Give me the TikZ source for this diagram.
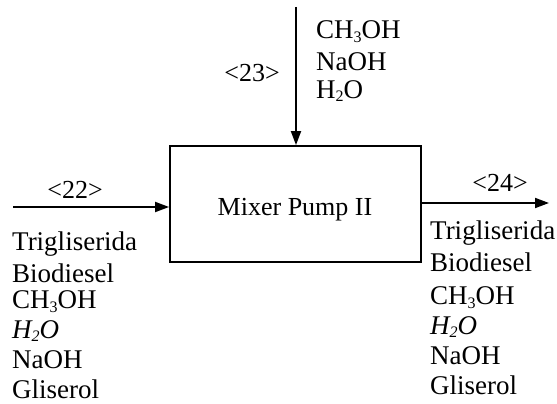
\documentclass[tikz,border=0pt]{standalone}
\usepackage{fontspec}
\setmainfont{Liberation Serif}
\usetikzlibrary{arrows.meta}
\newcommand\chemsub[1]{\raisebox{-0.14em}{\fontsize{16}{16}\selectfont #1}}
\tikzset{
  lbl/.style={inner sep=0pt, font=\fontsize{26}{30}\selectfont},
  item/.style={lbl, anchor=west, font=\fontsize{27}{30}\selectfont},
  flow/.style={line width=1.8pt, -{Triangle[length=14pt,width=10pt]}},
  boxst/.style={draw, line width=1.8pt, minimum width=251pt, minimum height=116pt, inner sep=0pt}
}
\begin{document}
\begin{tikzpicture}[x=1pt,y=-1pt]
\useasboundingbox (0,0) rectangle (557,404);
\node[boxst] (box) at (295.5,204) {};
\node[lbl] (mix) at (295,210) {Mixer Pump II};
% top stream
\coordinate (topin) at (296,7);
\draw[flow] (topin) -- (box.north -| topin);
\node[lbl] (l23) at (252,73) {<23>};
\node[item] (t1) at (316,32) {CH\chemsub{3}OH};
\node[item] (t2) at (316,62) {NaOH};
\node[item] (t3) at (316,91) {H\chemsub{2}O};
% left stream
\coordinate (leftin) at (13,207);
\draw[flow] (leftin) -- (leftin -| box.west);
\node[lbl] (l22) at (75,190) {<22>};
\node[item] (a1) at (12,244) {Trigliserida};
\node[item] (a2) at (12,273) {Biodiesel};
\node[item] (a3) at (12,302) {CH\chemsub{3}OH};
\node[item] (a4) at (12,331) {\itshape H\chemsub{2}O};
\node[item] (a5) at (12,360) {NaOH};
\node[item] (a6) at (12,389) {Gliserol};
% right stream
\coordinate (rightout) at (549,203);
\draw[flow] (box.east |- rightout) -- (rightout);
\node[lbl] (l24) at (500,183) {<24>};
\node[item] (b1) at (430,233) {Trigliserida};
\node[item] (b2) at (430,262) {Biodiesel};
\node[item] (b3) at (430,298) {CH\chemsub{3}OH};
\node[item] (b4) at (430,327) {\itshape H\chemsub{2}O};
\node[item] (b5) at (430,356) {NaOH};
\node[item] (b6) at (430,385) {Gliserol};
\end{tikzpicture}
\end{document}
